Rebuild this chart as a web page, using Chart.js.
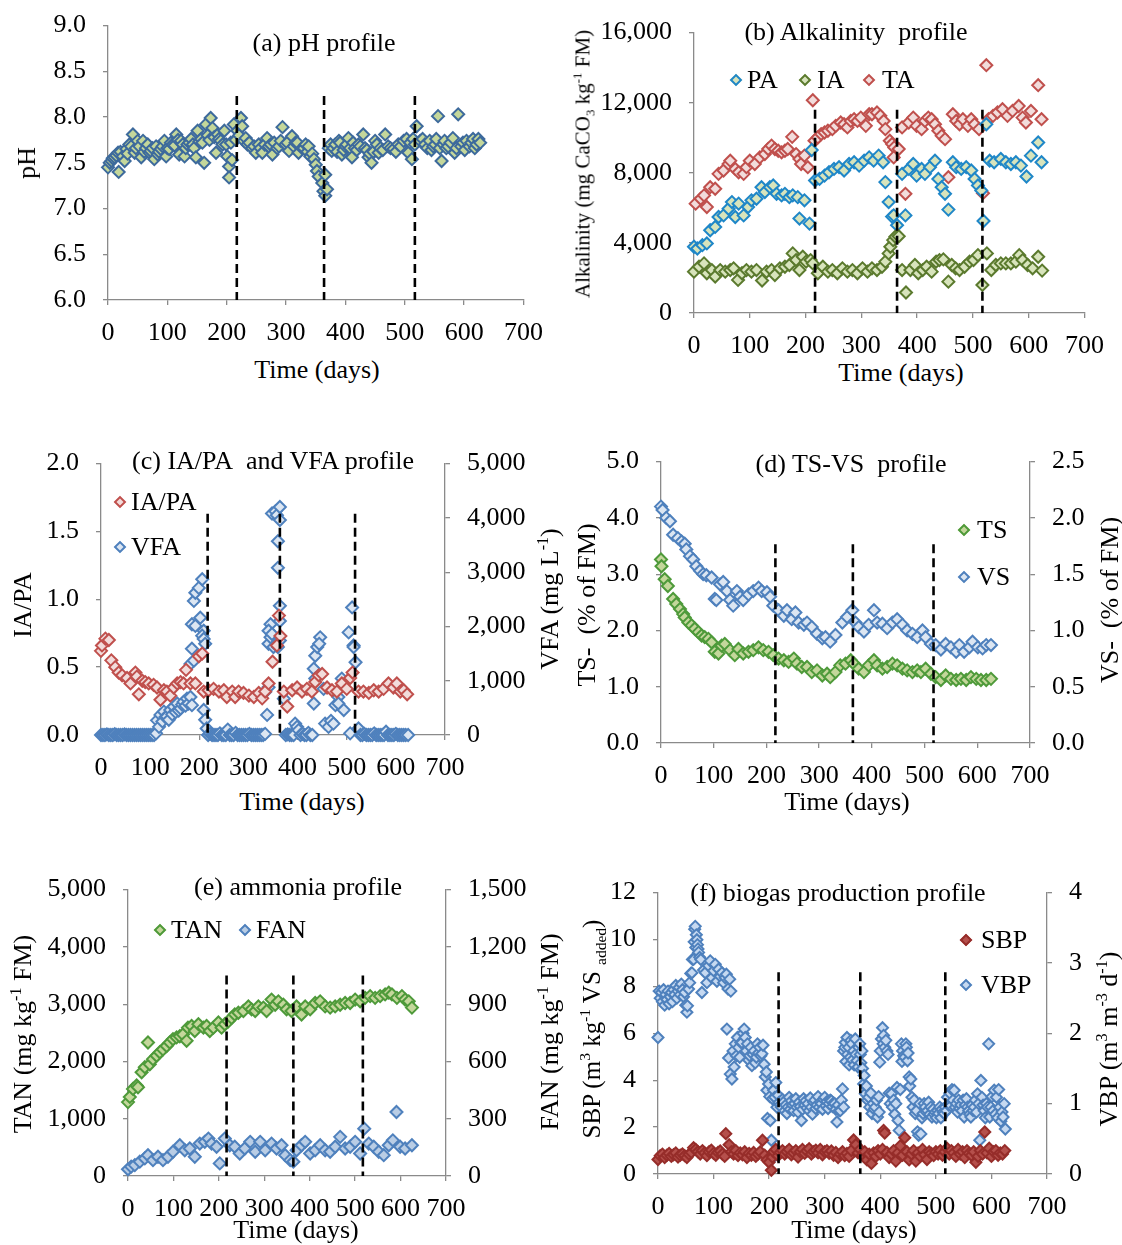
<!DOCTYPE html>
<html><head><meta charset="utf-8">
<script src="https://cdn.jsdelivr.net/npm/chart.js@4.4.1/dist/chart.umd.min.js"></script>
<style>
html,body{margin:0;padding:0;background:#fff;}
body{width:1122px;height:1245px;position:relative;overflow:hidden;font-family:'Liberation Serif','Times New Roman',serif;color:#000;}
canvas{position:absolute;}
.t{position:absolute;white-space:nowrap;line-height:1;z-index:5;}
.c{transform:translate(-50%,-50%);}
.l{transform:translate(0,-50%);}
.r{transform:translate(-50%,-50%) rotate(-90deg);}
.mk{position:absolute;width:5px;height:5px;border:2px solid;transform:translate(-50%,-50%) rotate(45deg);z-index:5;}
sup,sub{font-size:62%;line-height:0;}
</style></head><body>
<script>
// ---------------- DATA ----------------
const dashDays = [217, 364, 517];
const xTicks = [0, 100, 200, 300, 400, 500, 600, 700];

// (a) pH
const pH = [[0,7.45],[3,7.50],[6,7.52],[8,7.55],[11,7.56],[14,7.58],[17,7.61],[18,7.40],[21,7.62],[25,7.57],[28,7.52],[31,7.65],[33,7.60],[36,7.70],[39,7.68],[42,7.81],[45,7.61],[47,7.66],[50,7.74],[53,7.68],[56,7.56],[59,7.74],[61,7.62],[64,7.66],[67,7.70],[70,7.61],[72,7.63],[75,7.66],[78,7.54],[81,7.68],[84,7.59],[86,7.62],[89,7.65],[92,7.68],[95,7.74],[98,7.57],[100,7.66],[103,7.65],[106,7.72],[109,7.70],[112,7.69],[115,7.81],[118,7.75],[120,7.59],[123,7.74],[126,7.70],[129,7.57],[131,7.66],[134,7.70],[137,7.72],[140,7.76],[143,7.70],[145,7.66],[148,7.56],[151,7.85],[154,7.73],[157,7.76],[159,7.72],[162,7.50],[165,7.92],[168,7.80],[171,7.75],[173,7.99],[176,7.88],[179,7.78],[182,7.61],[185,7.81],[187,7.76],[190,7.74],[193,7.70],[196,7.85],[199,7.70],[201,7.57],[204,7.46],[204,7.34],[207,7.72],[209,7.53],[212,7.92],[215,7.75],[218,7.85],[221,7.80],[224,7.99],[226,7.90],[229,7.74],[232,7.77],[235,7.70],[238,7.72],[243,7.66],[246,7.68],[249,7.61],[254,7.70],[257,7.66],[260,7.61],[264,7.70],[268,7.77],[271,7.68],[274,7.70],[277,7.59],[280,7.72],[285,7.66],[288,7.68],[291,7.74],[294,7.89],[299,7.70],[302,7.72],[305,7.63],[310,7.79],[313,7.68],[316,7.72],[319,7.72],[321,7.61],[327,7.66],[330,7.66],[333,7.70],[336,7.62],[338,7.68],[341,7.57],[344,7.60],[347,7.54],[350,7.48],[352,7.41],[355,7.35],[361,7.28],[363,7.19],[366,7.37],[366,7.14],[369,7.21],[372,7.66],[375,7.70],[377,7.63],[380,7.66],[383,7.70],[386,7.62],[389,7.74],[391,7.72],[394,7.59],[397,7.64],[400,7.68],[402,7.70],[405,7.77],[408,7.66],[411,7.56],[413,7.72],[416,7.66],[419,7.64],[422,7.70],[425,7.68],[430,7.81],[433,7.66],[436,7.64],[439,7.56],[441,7.60],[444,7.50],[447,7.62],[450,7.74],[453,7.70],[456,7.61],[459,7.66],[463,7.64],[467,7.81],[472,7.68],[476,7.66],[481,7.65],[485,7.62],[489,7.70],[493,7.68],[498,7.74],[503,7.76],[506,7.61],[509,7.72],[512,7.54],[514,7.76],[517,7.70],[520,7.90],[526,7.74],[530,7.76],[534,7.70],[538,7.66],[542,7.74],[545,7.64],[548,7.68],[551,7.70],[553,7.76],[556,8.01],[559,7.66],[562,7.52],[565,7.70],[567,7.74],[570,7.66],[573,7.68],[577,7.72],[581,7.77],[584,7.61],[587,7.66],[590,8.03],[595,7.68],[598,7.72],[601,7.64],[604,7.74],[609,7.68],[612,7.72],[615,7.76],[618,7.66],[621,7.70],[624,7.76],[627,7.72]];

// (b) alkalinity, mg CaCO3 / kg FM
const TA = [[3,6240],[12,6520],[18,6710],[23,6050],[29,7180],[38,7090],[44,7940],[53,8130],[62,8500],[65,8690],[74,8220],[80,8030],[89,7940],[94,8320],[100,8690],[109,8500],[118,8880],[127,9070],[133,9360],[139,9550],[145,9360],[151,9260],[157,9170],[163,9260],[168,9360],[176,10050],[183,9070],[189,8790],[192,8500],[198,8980],[204,8320],[213,12140],[216,9830],[222,10020],[228,10210],[234,10300],[240,10400],[248,10490],[254,10680],[263,10870],[269,10770],[275,10590],[281,10960],[287,11060],[293,10960],[299,11150],[308,10680],[314,11340],[319,11340],[328,11440],[334,11250],[340,10960],[343,10490],[351,9830],[355,9640],[359,9450],[358,8880],[367,9360],[373,10590],[379,6800],[385,10870],[393,11150],[399,10680],[408,10490],[414,10960],[420,11150],[426,11060],[432,10770],[438,10400],[444,10110],[450,9920],[456,7750],[464,11340],[470,10960],[476,10770],[482,11060],[491,10680],[497,11060],[503,10770],[511,10490],[518,6840],[524,14140],[528,11060],[536,11250],[544,11440],[553,11630],[562,11250],[571,11530],[582,11810],[589,11150],[595,10870],[604,11530],[617,13000],[623,11060]];
const PA = [[0,3780],[6,3680],[15,3870],[23,3970],[29,4720],[38,4910],[44,5480],[53,5570],[62,5950],[68,6330],[74,5480],[80,6240],[89,5570],[97,6050],[103,6430],[112,6520],[121,7180],[127,6900],[136,7180],[142,7280],[148,6800],[157,6710],[163,6800],[171,6610],[177,6710],[186,6610],[189,5390],[198,6430],[207,5100],[211,9300],[217,7560],[225,7650],[234,7840],[242,8030],[251,8220],[260,8320],[269,8130],[278,8500],[287,8600],[296,8410],[305,8690],[314,8880],[322,8690],[331,8980],[339,8600],[343,7470],[349,6330],[355,5500],[358,5570],[364,5010],[373,7940],[379,5570],[385,8220],[393,8500],[399,7840],[408,8220],[414,7940],[423,8320],[432,8690],[438,7650],[444,7180],[450,6800],[456,5900],[464,8600],[470,8320],[479,8220],[488,8320],[497,8130],[503,7650],[509,7280],[515,6990],[519,5250],[524,10770],[530,8690],[538,8600],[550,8790],[559,8600],[568,8500],[577,8600],[586,8410],[596,7790],[604,8980],[617,9730],[623,8600]];
const IA = [[0,2360],[9,2640],[18,2830],[23,2270],[32,2450],[38,2080],[47,2450],[56,2360],[65,2450],[71,2550],[79,1890],[86,2270],[94,2450],[103,2360],[112,2450],[122,1850],[130,2360],[139,2450],[145,2170],[154,2550],[163,2640],[171,2740],[177,3400],[183,3020],[189,2450],[195,3210],[201,2930],[209,3020],[213,2830],[222,2270],[231,2640],[240,2360],[248,2450],[257,2270],[266,2550],[275,2360],[284,2450],[293,2270],[302,2550],[311,2360],[319,2550],[328,2450],[337,2640],[343,2930],[349,3400],[352,3780],[357,4160],[361,4350],[367,4380],[373,2450],[380,1170],[388,2450],[396,2740],[402,2270],[410,2450],[417,2640],[426,2360],[434,2930],[440,3020],[447,3060],[456,1790],[462,2740],[469,2550],[476,2450],[485,2640],[494,2930],[501,3020],[509,3300],[517,1600],[525,3400],[533,2450],[541,2740],[550,2830],[559,2830],[568,2830],[577,2930],[583,3300],[589,3020],[598,2740],[607,2550],[617,3210],[624,2420]];

// (c) IA/PA ratio and VFA (mg/L)
const IAPA = [[0,0.62],[2,0.66],[9,0.71],[16,0.70],[21,0.55],[29,0.50],[36,0.46],[43,0.44],[53,0.42],[60,0.38],[70,0.46],[73,0.43],[77,0.30],[84,0.40],[90,0.39],[97,0.38],[107,0.37],[114,0.35],[121,0.26],[128,0.33],[134,0.32],[141,0.29],[148,0.35],[155,0.38],[162,0.39],[168,0.38],[173,0.48],[182,0.38],[192,0.38],[199,0.58],[206,0.60],[209,0.32],[219,0.33],[229,0.34],[240,0.32],[250,0.33],[256,0.28],[267,0.32],[273,0.28],[280,0.32],[290,0.31],[301,0.29],[311,0.28],[321,0.31],[328,0.27],[334,0.32],[341,0.38],[349,0.54],[358,0.66],[362,0.88],[365,0.73],[372,0.32],[379,0.21],[389,0.33],[399,0.35],[409,0.32],[419,0.34],[429,0.32],[436,0.39],[443,0.44],[450,0.45],[460,0.35],[470,0.33],[480,0.32],[490,0.38],[500,0.34],[507,0.42],[512,0.46],[524,0.32],[534,0.32],[545,0.31],[555,0.33],[565,0.32],[575,0.34],[585,0.38],[595,0.35],[602,0.38],[609,0.32],[616,0.33],[623,0.30]];
const VFA = [[0,0],[4,0],[8,0],[12,10],[16,0],[20,0],[24,0],[28,15],[32,0],[36,0],[40,0],[44,0],[48,10],[52,0],[56,0],[60,0],[64,0],[68,0],[72,0],[76,0],[80,0],[84,0],[88,0],[92,0],[96,0],[100,0],[104,0],[108,0],[112,30],[114,270],[118,150],[121,370],[125,250],[128,430],[131,330],[134,340],[138,280],[141,460],[145,380],[148,520],[152,420],[155,580],[158,450],[162,490],[165,560],[168,610],[172,540],[175,670],[178,580],[182,700],[185,550],[182,1310],[189,1370],[185,1590],[185,2040],[192,2010],[189,2470],[192,2620],[199,2710],[206,2870],[202,2160],[209,1920],[206,1830],[209,1770],[212,1680],[209,460],[212,280],[215,120],[218,0],[222,20],[226,0],[230,0],[234,0],[238,0],[242,30],[246,0],[250,0],[254,0],[258,100],[262,0],[266,0],[270,0],[274,40],[278,0],[282,0],[286,0],[290,0],[294,0],[298,0],[302,20],[306,0],[310,0],[314,0],[318,0],[322,0],[326,0],[330,0],[334,20],[338,370],[334,790],[341,880],[341,1680],[345,2040],[341,1920],[345,1800],[348,1860],[351,1620],[348,4080],[355,4120],[358,4050],[364,4200],[364,3960],[360,3570],[360,3080],[364,2380],[364,2100],[364,1740],[360,1620],[372,670],[376,0],[380,10],[384,0],[388,0],[392,0],[395,210],[399,150],[402,90],[406,0],[410,20],[414,0],[418,0],[422,40],[426,0],[430,0],[433,1220],[436,1460],[440,1620],[446,1800],[444,1680],[436,1040],[433,580],[453,850],[456,210],[463,150],[468,260],[473,210],[477,550],[483,700],[490,1040],[483,580],[494,460],[504,1890],[511,2350],[514,1650],[518,1340],[514,1620],[507,30],[524,120],[528,0],[532,0],[536,20],[540,0],[544,0],[548,0],[552,0],[556,30],[560,0],[564,0],[568,0],[572,0],[576,0],[580,60],[584,0],[588,0],[592,0],[596,0],[600,20],[604,0],[608,0],[612,0],[616,0],[620,0],[625,0]];

// (d) TS and VS (% of FM)
const TS = [[0,3.26],[1,3.14],[7,2.91],[13,2.79],[23,2.56],[29,2.47],[36,2.38],[42,2.29],[45,2.23],[52,2.14],[58,2.09],[64,2.03],[71,1.97],[77,1.91],[83,1.88],[90,1.85],[96,1.79],[102,1.62],[109,1.59],[115,1.73],[121,1.76],[131,1.65],[140,1.56],[147,1.67],[156,1.59],[166,1.62],[175,1.65],[185,1.70],[194,1.65],[204,1.62],[213,1.56],[223,1.50],[233,1.47],[242,1.44],[252,1.50],[258,1.41],[267,1.35],[277,1.35],[286,1.26],[296,1.29],[306,1.20],[315,1.23],[321,1.17],[331,1.26],[340,1.38],[350,1.41],[360,1.47],[366,1.41],[375,1.32],[385,1.26],[394,1.38],[404,1.47],[410,1.38],[420,1.32],[429,1.35],[439,1.41],[448,1.38],[458,1.32],[467,1.29],[477,1.26],[486,1.29],[493,1.26],[502,1.32],[512,1.23],[521,1.17],[531,1.12],[540,1.20],[550,1.14],[560,1.12],[569,1.14],[579,1.12],[588,1.17],[598,1.14],[607,1.12],[617,1.12],[626,1.14]];
const VS = [[0,2.10],[3,2.07],[10,2.00],[17,1.97],[23,1.85],[32,1.82],[39,1.79],[45,1.77],[48,1.72],[55,1.66],[61,1.63],[67,1.57],[74,1.53],[80,1.50],[86,1.49],[96,1.47],[102,1.28],[105,1.27],[112,1.41],[118,1.43],[125,1.35],[131,1.27],[137,1.22],[144,1.35],[150,1.30],[156,1.27],[166,1.32],[175,1.35],[185,1.38],[191,1.35],[201,1.34],[207,1.30],[213,1.22],[223,1.18],[233,1.13],[239,1.18],[248,1.10],[255,1.16],[261,1.07],[271,1.05],[277,1.07],[286,1.03],[296,0.97],[306,0.93],[312,0.94],[321,0.90],[331,0.96],[344,1.07],[353,1.12],[363,1.18],[369,1.07],[375,1.03],[385,0.99],[394,1.05],[404,1.18],[410,1.07],[420,1.06],[429,1.02],[439,1.07],[448,1.10],[458,1.05],[467,1.00],[477,0.97],[486,0.94],[496,1.00],[502,0.94],[512,0.88],[521,0.87],[531,0.83],[540,0.88],[550,0.85],[560,0.81],[566,0.87],[575,0.81],[585,0.85],[591,0.90],[601,0.85],[610,0.84],[617,0.87],[626,0.87]];

// (e) TAN and FAN (mg/kg FM)
const TAN = [[0,1290],[4,1380],[11,1520],[19,1580],[22,1550],[30,1810],[37,1900],[44,2330],[48,1950],[55,2040],[63,2100],[70,2160],[77,2210],[85,2270],[92,2330],[99,2390],[107,2420],[114,2440],[121,2470],[129,2360],[132,2590],[140,2620],[147,2530],[155,2650],[166,2590],[173,2620],[180,2530],[188,2590],[199,2680],[206,2590],[213,2650],[221,2700],[228,2760],[235,2820],[243,2850],[254,2880],[265,2960],[272,2910],[280,2880],[287,2960],[298,2940],[305,2880],[316,3080],[324,2990],[331,3050],[342,2990],[349,2910],[360,2880],[371,2960],[382,2820],[390,2960],[401,2910],[412,3020],[423,3050],[434,2960],[445,2940],[456,2960],[467,2990],[478,3020],[489,3020],[500,3080],[511,3050],[522,3110],[533,3140],[544,3110],[555,3140],[566,3170],[574,3200],[581,3170],[592,3110],[603,3140],[610,3080],[618,3050],[625,2940]];
const FAN = [[0,35],[7,49],[15,57],[26,75],[37,92],[44,109],[55,83],[66,101],[77,83],[88,101],[99,127],[114,161],[125,135],[136,144],[147,101],[158,170],[169,179],[177,196],[184,170],[195,153],[202,66],[213,196],[224,161],[235,153],[246,118],[257,144],[269,179],[280,127],[291,179],[302,135],[316,170],[327,144],[338,161],[346,109],[357,83],[364,75],[371,135],[382,161],[390,179],[401,118],[412,135],[423,161],[434,135],[445,127],[456,153],[467,205],[478,144],[489,153],[500,179],[511,118],[520,248],[530,170],[541,153],[552,127],[563,109],[574,161],[583,187],[591,335],[599,153],[610,144],[625,161]];

// (f) SBP (m3/kg VS added) and VBP (m3/m3/d)
const SBP = [[0,0.62],[4,0.78],[8,0.85],[12,0.70],[16,0.80],[20,0.88],[24,0.75],[28,0.82],[32,0.90],[36,0.72],[40,0.80],[44,0.86],[48,0.78],[52,0.70],[56,0.84],[60,0.92],[64,1.12],[68,1.05],[72,0.95],[76,0.85],[80,1.00],[84,0.90],[88,0.78],[92,0.95],[96,1.02],[100,0.88],[104,0.80],[108,0.92],[112,0.98],[116,0.85],[120,0.75],[122,1.72],[128,1.25],[132,0.95],[136,0.85],[140,1.00],[144,0.78],[148,0.90],[152,0.82],[156,0.95],[160,0.70],[164,0.88],[168,0.80],[172,0.92],[176,0.75],[180,0.85],[184,0.95],[188,1.44],[192,0.80],[196,0.60],[200,0.50],[204,0.16],[206,0.72],[208,0.95],[212,1.05],[216,0.78],[220,0.92],[224,1.00],[228,0.85],[232,0.95],[236,1.05],[240,0.82],[244,0.90],[248,1.00],[252,0.72],[256,0.95],[260,1.05],[264,0.88],[268,0.98],[272,1.08],[276,0.85],[280,0.95],[284,1.02],[288,0.90],[292,1.05],[296,0.82],[300,0.95],[304,1.00],[308,0.88],[312,0.98],[316,0.80],[320,0.92],[324,0.70],[328,0.85],[332,0.95],[336,0.78],[340,0.88],[344,0.75],[348,1.00],[352,1.45],[356,1.25],[360,0.90],[364,1.05],[368,0.80],[372,0.95],[376,0.60],[380,0.85],[384,0.45],[388,0.90],[392,0.75],[396,1.00],[400,0.85],[404,1.05],[406,1.86],[408,1.75],[412,0.92],[416,0.70],[420,0.85],[424,1.00],[428,0.55],[432,0.90],[436,1.20],[440,0.80],[444,1.55],[448,0.95],[452,0.60],[456,0.85],[460,1.00],[464,0.55],[468,0.90],[472,0.75],[476,1.05],[480,0.82],[484,0.62],[488,0.95],[492,0.88],[496,0.78],[500,0.95],[504,0.85],[508,1.00],[512,0.80],[516,0.95],[520,1.10],[524,0.85],[528,1.00],[532,0.90],[536,0.75],[540,1.05],[544,0.85],[548,0.95],[552,0.70],[556,1.00],[560,0.88],[564,0.80],[568,0.95],[572,0.50],[576,0.75],[580,1.00],[584,0.85],[588,1.79],[592,0.90],[596,1.10],[600,0.75],[604,0.95],[608,1.00],[612,0.80],[616,0.90],[620,0.85],[624,1.00]];
const VBP = [[0,1.94],[2,2.60],[4,2.50],[6,2.58],[8,2.45],[10,2.62],[12,2.40],[14,2.55],[16,2.48],[18,2.60],[20,2.42],[22,2.52],[24,2.58],[26,2.45],[28,2.62],[30,2.55],[32,2.68],[34,2.50],[36,2.60],[38,2.65],[40,2.55],[42,2.70],[44,2.62],[46,2.52],[48,2.58],[50,2.40],[52,2.30],[53,2.39],[55,2.63],[57,2.72],[59,2.85],[61,2.86],[62,3.05],[64,3.05],[65,3.30],[66,3.48],[67,3.52],[68,3.22],[69,3.40],[70,3.33],[71,3.26],[72,3.20],[73,3.15],[75,3.08],[77,3.05],[79,2.58],[82,2.90],[85,2.86],[88,2.72],[91,2.96],[94,3.03],[97,2.79],[100,2.89],[103,2.98],[106,2.74],[109,2.91],[112,2.81],[115,2.86],[118,2.72],[121,2.79],[123,2.84],[126,2.63],[129,2.77],[131,2.60],[124,2.06],[127,1.65],[130,1.42],[133,1.35],[135,1.75],[137,1.52],[139,1.85],[141,1.68],[143,1.94],[145,1.80],[147,1.66],[149,1.87],[151,1.87],[153,2.00],[155,2.06],[157,1.94],[159,1.75],[161,1.85],[163,1.62],[165,1.68],[167,1.80],[169,1.54],[171,1.70],[173,1.75],[175,1.58],[177,1.66],[179,1.85],[181,1.72],[183,1.80],[185,1.68],[187,1.71],[189,1.83],[191,1.56],[193,1.38],[195,1.45],[196,1.19],[197,0.79],[199,1.28],[201,1.10],[202,0.76],[204,0.48],[205,0.22],[206,1.07],[208,1.19],[210,1.09],[212,1.30],[214,0.95],[216,1.12],[218,1.02],[220,0.98],[222,0.95],[224,1.06],[226,1.02],[228,0.90],[230,0.98],[232,0.86],[234,0.95],[236,1.09],[238,0.92],[240,1.04],[242,0.98],[244,0.90],[246,1.00],[248,1.07],[250,0.95],[252,0.88],[254,1.02],[256,0.96],[258,0.76],[260,0.92],[262,1.07],[264,0.98],[266,1.04],[268,0.94],[270,1.00],[272,0.90],[274,1.08],[276,0.95],[278,0.85],[280,1.02],[282,1.05],[284,0.93],[286,0.98],[288,1.10],[290,0.95],[292,1.02],[294,1.00],[296,0.92],[298,1.06],[300,1.09],[302,0.97],[304,1.03],[306,0.93],[308,1.00],[310,1.05],[312,1.04],[314,0.96],[316,1.01],[318,1.00],[320,0.92],[322,0.74],[324,0.98],[326,0.90],[328,0.90],[330,1.05],[332,1.21],[334,0.95],[334,1.75],[336,1.80],[337,1.87],[338,1.60],[340,1.94],[341,1.70],[343,1.80],[344,1.55],[346,1.66],[347,1.90],[349,1.85],[350,1.62],[352,1.75],[353,1.55],[355,1.92],[356,1.70],[358,1.61],[360,1.52],[361,1.80],[363,1.85],[364,1.70],[365,1.58],[367,1.75],[368,1.50],[370,1.28],[371,1.40],[373,1.14],[375,1.25],[377,1.05],[379,1.09],[381,0.95],[383,1.15],[385,0.86],[387,1.00],[389,0.92],[391,0.95],[393,1.05],[395,0.81],[397,1.10],[398,0.88],[399,1.59],[400,1.75],[402,1.92],[404,2.08],[405,1.85],[406,1.97],[408,1.80],[410,1.90],[412,1.75],[414,1.70],[416,1.15],[418,1.00],[420,1.14],[422,0.95],[424,1.05],[426,0.85],[428,1.00],[430,1.23],[432,0.76],[434,0.62],[436,1.20],[438,1.85],[439,1.60],[440,1.75],[442,1.68],[444,1.66],[446,1.85],[447,1.80],[449,1.61],[450,1.72],[452,1.38],[453,1.25],[455,1.35],[457,1.09],[459,0.95],[461,1.05],[463,0.86],[465,0.90],[467,0.60],[469,0.55],[471,1.00],[473,0.57],[475,0.80],[477,0.86],[479,1.00],[481,0.95],[483,0.88],[485,0.90],[487,1.02],[489,0.85],[491,0.95],[493,0.81],[495,0.92],[497,0.85],[499,0.88],[501,0.80],[503,0.90],[505,0.86],[507,0.95],[509,0.80],[511,0.92],[513,0.88],[515,0.86],[517,0.95],[519,0.90],[521,1.09],[523,0.98],[525,1.15],[527,0.97],[529,1.20],[531,1.05],[533,1.19],[535,0.95],[537,1.00],[539,0.88],[541,1.05],[543,0.93],[545,0.98],[547,0.90],[549,1.05],[551,0.81],[553,0.98],[555,1.07],[557,0.95],[559,0.90],[561,0.85],[563,0.81],[565,0.98],[567,0.90],[569,0.95],[571,1.05],[573,0.88],[575,1.14],[577,1.00],[579,0.48],[581,1.33],[583,1.09],[585,0.98],[587,0.90],[589,0.80],[591,1.00],[593,0.95],[595,1.85],[597,0.81],[599,0.95],[601,1.10],[603,0.90],[605,1.19],[607,0.85],[609,1.09],[611,0.80],[613,1.20],[615,0.95],[617,0.75],[619,0.88],[621,0.81],[623,1.00],[625,0.64]];

// ---------------- RENDERING ----------------
const FONT = "'Liberation Serif','Times New Roman',serif";
const GRAY = '#8a8a8a';
const fmt1 = v => Number(v).toFixed(1);
const fmtK = v => Number(v).toLocaleString('en-US');
const fmt0 = v => String(v);

function xScale(hX){
  return {type:'linear',position:'bottom',min:0,max:700,
    afterFit:s=>{s.height=hX;},
    afterBuildTicks:s=>{s.ticks=xTicks.map(v=>({value:v}));},
    border:{color:GRAY,width:1.3},
    grid:{drawOnChartArea:false,drawTicks:true,tickLength:5,color:GRAY,lineWidth:1.3},
    ticks:{autoSkip:false,maxRotation:0,padding:13,color:'#000',font:{family:FONT,size:26}}};
}
function yScale(pos,min,max,step,w,fmt){
  return {type:'linear',position:pos,min:min,max:max,
    afterFit:s=>{s.width=w;},
    border:{color:GRAY,width:1.3},
    grid:{drawOnChartArea:false,drawTicks:true,tickLength:5,color:GRAY,lineWidth:1.3},
    ticks:{stepSize:step,autoSkip:false,padding:17,color:'#000',font:{family:FONT,size:26},callback:fmt}};
}
function series(pairs,border,fill,yID,r){
  return {data:pairs.map(p=>({x:p[0],y:p[1]})),yAxisID:yID,pointStyle:'rectRot',
    pointRadius:r||6,pointBorderWidth:2,pointBorderColor:border,pointBackgroundColor:fill,
    showLine:false,clip:false,order:1};
}
function dashes(top,bottom,yID){
  return dashDays.map(d=>({data:[{x:d,y:top},{x:d,y:bottom}],yAxisID:yID,showLine:true,
    borderColor:'#000',borderWidth:2.6,borderDash:[9,5],pointRadius:0,order:-1,fill:false}));
}
function panel(o){
  const cv=document.createElement('canvas');
  cv.width=o.W; cv.height=o.H;
  cv.style.left=o.L+'px'; cv.style.top=o.T+'px';
  cv.style.width=o.W+'px'; cv.style.height=o.H+'px';
  document.body.appendChild(cv);
  const scales={x:xScale(45),y:o.y};
  if(o.y2) scales.y2=o.y2;
  new Chart(cv,{type:'scatter',data:{datasets:o.datasets},
    options:{responsive:false,animation:false,devicePixelRatio:1,events:[],
      layout:{padding:{top:0,left:0,bottom:0,right:o.padR||0}},
      plugins:{legend:{display:false},tooltip:{enabled:false}},
      scales:scales}});
}

// (a)
panel({L:13,T:-7,W:543,H:352,padR:30,
  y:yScale('left',6,9,0.5,95,fmt1),
  datasets:[series(pH,'#3d6a9c','#c4d79b','y'),...dashes(8.23,6,'y')]});
// (b)
panel({L:584,T:0,W:533,H:358,padR:30,
  y:yScale('left',0,16000,4000,110,fmtK),
  datasets:[series(IA,'#5b7a2e','#d8e4bc','y'),series(PA,'#1f87c8','#d8e4bc','y'),series(TA,'#c0504d','#f2dcdb','y'),...dashes(11600,0,'y')]});
// (c)
panel({L:6,T:431,W:529,H:349,
  y:yScale('left',0,2,0.5,95,fmt1),
  y2:yScale('right',0,5000,1000,90,fmtK),
  datasets:[series(IAPA,'#c0504d','#f2dcdb','y'),series(VFA,'#4f81bd','#dce6f2','y2'),...dashes(1.63,0,'y')]});
// (d)
panel({L:566,T:429,W:554,H:359,
  y:yScale('left',0,5,1,95,fmt1),
  y2:yScale('right',0,2.5,0.5,90,fmt1),
  datasets:[series(TS,'#4e9a3a','#c4d79b','y'),series(VS,'#4f81bd','#dce6f2','y2'),...dashes(3.53,0,'y')]});
// (e)
panel({L:33,T:857,W:503,H:364,
  y:yScale('left',0,5000,1000,95,fmtK),
  y2:yScale('right',0,1500,300,90,fmtK),
  datasets:[series(TAN,'#4e9a3a','#c4d79b','y'),series(FAN,'#4f81bd','#b9cde5','y2'),...dashes(3500,0,'y')]});
// (f)
panel({L:568,T:860,W:553,H:359,
  y:yScale('left',0,12,2,90,fmt0),
  y2:yScale('right',0,4,1,74,fmt0),
  datasets:[series(SBP,'#962d2a','#b5504c','y',5.5),series(VBP,'#4f81bd','#c6d9f1','y2',5.5),...dashes(8.6,0,'y')]});

// ---------------- TEXT OVERLAYS ----------------
function txt(html,x,y,cls,size){
  const d=document.createElement('div');
  d.className='t '+cls; d.innerHTML=html;
  d.style.left=x+'px'; d.style.top=y+'px'; d.style.fontSize=(size||26)+'px';
  document.body.appendChild(d);
}
function mark(x,y,border,fill){
  const d=document.createElement('div');
  d.className='mk'; d.style.left=x+'px'; d.style.top=y+'px';
  d.style.borderColor=border; d.style.background=fill;
  document.body.appendChild(d);
}
// titles
txt('(a) pH profile',324,43,'c');
txt('(b) Alkalinity&nbsp; profile',856,32,'c');
txt('(c) IA/PA&nbsp; and VFA profile',273,461,'c');
txt('(d) TS-VS&nbsp; profile',851,464,'c');
txt('(e) ammonia profile',298,887,'c');
txt('(f) biogas production profile',838,893,'c');
// x titles
[[317,370],[901,373],[302,802],[847,802],[296,1230],[854,1230]].forEach(p=>txt('Time (days)',p[0],p[1],'c'));
// y titles
txt('pH',27,163,'r');
txt('Alkalinity (mg CaCO<sub>3</sub> kg<sup>-1</sup> FM)',583,164,'r',21);
txt('IA/PA',23,605,'r');
txt('VFA (mg L<sup>-1</sup>)',550,599,'r');
txt('TS-&nbsp; (% of FM)',587,605,'r');
txt('VS-&nbsp; (% of FM)',1110,600,'r');
txt('TAN (mg kg<sup>-1</sup> FM)',23,1034,'r');
txt('FAN (mg kg<sup>-1</sup> FM)',550,1032,'r');
txt('SBP (m<sup>3</sup> kg<sup>-1</sup> VS <sub>added</sub>)',591,1029,'r',25);
txt('VBP (m<sup>3</sup> m<sup>-3</sup> d<sup>-1</sup>)',1109,1039,'r');
// legends
mark(736,80,'#1f87c8','#d8e4bc'); txt('PA',747,80,'l');
mark(805,80,'#5b7a2e','#d8e4bc'); txt('IA',817,80,'l');
mark(869,80,'#c0504d','#f2dcdb'); txt('TA',882,80,'l');
mark(120,502,'#c0504d','#f2dcdb'); txt('IA/PA',131,502,'l');
mark(120,547,'#4f81bd','#dce6f2'); txt('VFA',131,547,'l');
mark(964,530,'#4e9a3a','#c4d79b'); txt('TS',977,530,'l');
mark(964,577,'#4f81bd','#dce6f2'); txt('VS',977,577,'l');
mark(160,930,'#4e9a3a','#c4d79b'); txt('TAN',171,930,'l');
mark(245,930,'#4f81bd','#b9cde5'); txt('FAN',256,930,'l');
mark(966,940,'#962d2a','#b5504c'); txt('SBP',981,940,'l');
mark(966,985,'#4f81bd','#c6d9f1'); txt('VBP',981,985,'l');
</script>
</body></html>
